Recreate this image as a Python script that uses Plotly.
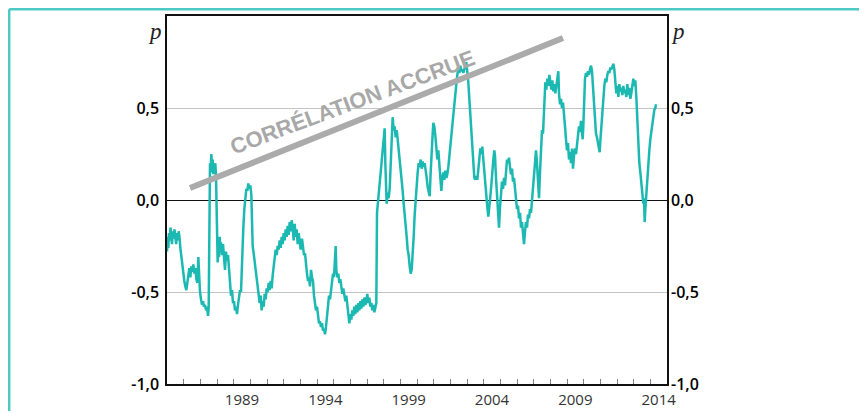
import plotly.graph_objects as go

# ---- data ----
years = [
 1985.00,1985.04,1985.08,1985.12,1985.17,1985.21,1985.25,1985.30,1985.35,1985.40,1985.45,1985.50,1985.55,1985.60,1985.65,1985.70,1985.75,1985.80,1985.86,1985.92,1985.98,
 1986.04,1986.10,1986.16,1986.22,1986.28,1986.34,1986.40,1986.46,1986.52,1986.58,1986.64,1986.70,1986.76,1986.82,1986.88,1986.92,1986.98,
 1987.04,1987.10,1987.16,1987.22,1987.28,1987.34,1987.40,1987.46,1987.50,1987.53,1987.55,1987.58,1987.62,1987.66,1987.70,1987.74,1987.78,1987.82,1987.86,1987.90,1987.94,1987.97,
 1988.00,1988.04,1988.08,1988.12,1988.16,1988.20,1988.24,1988.30,1988.36,1988.42,1988.48,1988.54,1988.60,1988.66,1988.72,1988.78,1988.84,1988.90,1988.96,
 1989.02,1989.08,1989.14,1989.20,1989.26,1989.32,1989.38,1989.44,1989.48,1989.52,1989.58,1989.64,1989.70,1989.76,1989.82,1989.88,1989.94,
 1990.00,1990.06,1990.10,1990.14,1990.20,1990.26,1990.32,1990.38,1990.44,1990.50,1990.56,1990.62,1990.68,1990.74,1990.80,1990.86,1990.92,1990.98,
 1991.04,1991.10,1991.16,1991.22,1991.28,1991.34,1991.40,1991.46,1991.52,1991.58,1991.64,1991.70,1991.76,1991.82,1991.88,1991.94,
 1992.00,1992.06,1992.12,1992.18,1992.24,1992.30,1992.36,1992.42,1992.48,1992.54,1992.60,1992.66,1992.72,1992.78,1992.84,1992.90,1992.96,
 1993.02,1993.10,1993.16,1993.22,1993.28,1993.34,1993.40,1993.46,1993.52,1993.58,1993.64,1993.70,1993.76,1993.82,1993.88,1993.94,
 1994.00,1994.06,1994.12,1994.18,1994.24,1994.30,1994.36,1994.42,1994.48,1994.54,1994.60,1994.66,1994.72,1994.78,1994.84,1994.90,1994.96,
 1995.02,1995.08,1995.12,1995.16,1995.22,1995.28,1995.34,1995.40,1995.46,1995.52,1995.58,1995.64,1995.70,1995.76,1995.82,1995.88,1995.94,
 1996.00,1996.06,1996.12,1996.18,1996.24,1996.30,1996.36,1996.42,1996.48,1996.54,1996.60,1996.66,1996.72,1996.78,1996.84,1996.90,1996.96,
 1997.02,1997.08,1997.14,1997.20,1997.26,1997.32,1997.38,1997.44,1997.50,1997.56,1997.60,1997.64,1997.70,1997.76,1997.82,1997.88,1997.94,
 1998.00,1998.06,1998.10,1998.14,1998.18,1998.24,1998.30,1998.36,1998.42,1998.48,1998.54,1998.60,1998.66,1998.72,1998.78,1998.84,1998.90,1998.96,
 1999.02,1999.08,1999.14,1999.20,1999.26,1999.32,1999.38,1999.44,1999.50,1999.56,1999.62,1999.68,1999.74,1999.80,1999.86,1999.92,1999.98,
 2000.04,2000.10,2000.16,2000.22,2000.28,2000.34,2000.40,2000.46,2000.52,2000.58,2000.64,2000.70,2000.76,2000.82,2000.88,2000.94,2000.98,
 2001.04,2001.10,2001.16,2001.22,2001.28,2001.34,2001.40,2001.46,2001.52,2001.58,2001.64,2001.70,2001.76,2001.82,2001.88,2001.94,
 2002.00,2002.06,2002.12,2002.18,2002.24,2002.30,2002.36,2002.42,2002.48,2002.54,2002.60,2002.66,2002.72,2002.78,2002.84,2002.90,2002.96,
 2003.02,2003.08,2003.14,2003.20,2003.26,2003.32,2003.38,2003.44,2003.50,2003.56,2003.62,2003.68,2003.74,2003.80,2003.86,2003.92,2003.98,
 2004.04,2004.10,2004.16,2004.22,2004.28,2004.34,2004.40,2004.46,2004.52,2004.58,2004.64,2004.68,2004.74,2004.80,2004.86,2004.92,2004.98,
 2005.04,2005.10,2005.16,2005.22,2005.28,2005.34,2005.40,2005.46,2005.52,2005.58,2005.64,2005.70,2005.76,2005.82,2005.88,2005.94,
 2006.00,2006.06,2006.12,2006.18,2006.24,2006.30,2006.36,2006.42,2006.48,2006.54,2006.60,2006.66,2006.72,2006.78,2006.84,2006.90,2006.96,
 2007.02,2007.08,2007.14,2007.20,2007.26,2007.32,2007.38,2007.44,2007.50,2007.56,2007.60,2007.66,2007.70,2007.76,2007.82,2007.88,2007.94,
 2008.00,2008.06,2008.12,2008.18,2008.24,2008.30,2008.36,2008.42,2008.48,2008.52,2008.58,2008.64,2008.70,2008.76,2008.82,2008.88,2008.94,
 2009.00,2009.06,2009.12,2009.18,2009.24,2009.30,2009.36,2009.42,2009.48,2009.54,2009.60,2009.66,2009.72,2009.78,2009.84,2009.90,2009.94,2009.98,
 2010.04,2010.08,2010.14,2010.20,2010.26,2010.32,2010.38,2010.44,2010.50,2010.56,2010.62,2010.68,2010.74,2010.80,2010.86,2010.92,2010.96,
 2011.00,2011.06,2011.12,2011.18,2011.24,2011.30,2011.36,2011.42,2011.48,2011.54,2011.60,2011.66,2011.72,2011.78,2011.84,2011.90,2011.96,
 2012.02,2012.08,2012.14,2012.20,2012.26,2012.32,2012.38,2012.44,2012.50,2012.56,2012.62,2012.68,2012.74,2012.80,2012.86,2012.92,2012.98,
 2013.04,2013.10,2013.16,2013.22,2013.28,2013.34,2013.40,2013.46,2013.52,2013.58,2013.62,2013.66,2013.70,2013.76,2013.82,2013.88,2013.94,
 2014.00,2014.06,2014.12,2014.18,2014.24,2014.30,2014.34,
]
rho = [
 -0.28,-0.20,-0.26,-0.18,-0.22,-0.15,-0.20,-0.24,-0.17,-0.21,-0.16,-0.19,-0.24,-0.18,-0.22,-0.17,-0.20,-0.26,-0.31,-0.35,-0.41,
 -0.44,-0.47,-0.49,-0.45,-0.40,-0.37,-0.42,-0.36,-0.39,-0.35,-0.40,-0.37,-0.43,-0.45,-0.31,-0.40,-0.50,
 -0.54,-0.57,-0.55,-0.58,-0.57,-0.60,-0.58,-0.63,-0.59,0.02,0.16,0.20,0.15,0.25,0.19,0.22,0.14,0.19,0.16,0.20,0.13,-0.05,
 -0.30,-0.34,-0.26,-0.31,-0.20,-0.27,-0.23,-0.30,-0.24,-0.33,-0.38,-0.28,-0.33,-0.30,-0.38,-0.46,-0.52,-0.49,-0.56,
 -0.55,-0.60,-0.58,-0.62,-0.57,-0.53,-0.49,-0.50,-0.40,-0.20,-0.15,-0.05,0.00,0.06,0.05,0.09,0.06,
 0.08,0.03,-0.10,-0.25,-0.29,-0.34,-0.37,-0.42,-0.48,-0.53,-0.56,-0.52,-0.60,-0.55,-0.58,-0.51,-0.54,-0.48,
 -0.50,-0.45,-0.49,-0.44,-0.48,-0.41,-0.35,-0.30,-0.27,-0.30,-0.25,-0.27,-0.22,-0.26,-0.20,-0.24,
 -0.18,-0.22,-0.16,-0.20,-0.14,-0.19,-0.12,-0.17,-0.11,-0.15,-0.22,-0.13,-0.20,-0.16,-0.24,-0.18,-0.22,
 -0.27,-0.21,-0.25,-0.30,-0.29,-0.36,-0.40,-0.44,-0.42,-0.47,-0.38,-0.42,-0.44,-0.52,-0.55,-0.60,
 -0.58,-0.64,-0.67,-0.66,-0.69,-0.67,-0.71,-0.70,-0.73,-0.69,-0.62,-0.56,-0.52,-0.54,-0.49,-0.43,-0.40,
 -0.42,-0.33,-0.25,-0.38,-0.42,-0.40,-0.45,-0.43,-0.47,-0.51,-0.48,-0.53,-0.55,-0.52,-0.56,-0.60,-0.67,
 -0.62,-0.65,-0.60,-0.63,-0.58,-0.62,-0.57,-0.61,-0.56,-0.60,-0.55,-0.59,-0.54,-0.58,-0.53,-0.57,-0.55,
 -0.51,-0.56,-0.53,-0.58,-0.56,-0.60,-0.57,-0.61,-0.58,-0.56,-0.07,-0.03,0.02,0.10,0.18,0.24,0.30,
 0.34,0.39,0.20,0.05,-0.02,0.04,0.01,0.06,0.20,0.35,0.45,0.38,0.40,0.34,0.38,0.33,0.28,0.22,
 0.15,0.10,0.05,-0.02,-0.10,-0.16,-0.20,-0.27,-0.30,-0.36,-0.40,-0.38,-0.31,-0.20,-0.08,0.02,0.10,
 0.15,0.20,0.18,0.22,0.17,0.21,0.18,0.20,0.14,0.12,0.07,0.03,0.02,0.15,0.30,0.36,0.42,
 0.40,0.35,0.30,0.22,0.27,0.18,0.12,0.05,0.12,0.15,0.11,0.16,0.12,0.14,0.18,0.24,
 0.30,0.35,0.43,0.48,0.55,0.58,0.63,0.68,0.72,0.69,0.73,0.70,0.71,0.69,0.72,0.73,0.75,
 0.70,0.64,0.55,0.45,0.35,0.25,0.18,0.12,0.11,0.13,0.11,0.16,0.22,0.28,0.25,0.29,0.22,
 0.14,0.06,0.00,-0.04,-0.09,-0.05,0.02,0.08,0.17,0.22,0.27,0.24,0.12,0.02,-0.05,-0.15,-0.04,
 0.04,0.10,0.06,0.12,0.08,0.15,0.22,0.20,0.23,0.18,0.14,0.17,0.10,0.12,0.06,0.02,
 -0.05,-0.03,-0.10,-0.07,-0.15,-0.12,-0.20,-0.24,-0.17,-0.12,-0.15,-0.08,-0.10,-0.05,-0.07,0.00,0.10,
 0.18,0.22,0.27,0.20,0.12,0.01,0.15,0.30,0.38,0.36,0.43,0.55,0.64,0.60,0.66,0.62,0.68,
 0.64,0.60,0.65,0.59,0.63,0.58,0.62,0.66,0.70,0.58,0.52,0.55,0.50,0.53,0.48,0.40,0.33,
 0.27,0.31,0.22,0.26,0.20,0.28,0.17,0.24,0.28,0.25,0.32,0.35,0.40,0.37,0.43,0.38,0.33,0.40,
 0.55,0.66,0.69,0.67,0.70,0.68,0.71,0.73,0.70,0.62,0.52,0.42,0.36,0.34,0.31,0.28,0.26,
 0.32,0.40,0.50,0.56,0.62,0.66,0.64,0.68,0.70,0.69,0.72,0.71,0.73,0.74,0.71,0.66,0.58,
 0.62,0.56,0.63,0.59,0.61,0.57,0.62,0.58,0.60,0.56,0.63,0.57,0.61,0.55,0.58,0.64,0.66,
 0.62,0.65,0.56,0.40,0.27,0.20,0.15,0.10,0.05,-0.02,0.01,-0.12,-0.05,0.04,0.12,0.20,0.27,
 0.33,0.38,0.43,0.45,0.49,0.50,0.52,
]
tick_years = [1989, 1994, 1999, 2004, 2009, 2014]
minor_years = list(range(1986, 2015))
y_ticks = [-1.0, -0.5, 0.0, 0.5]
y_ticktext = ["-1,0", "-0,5", "0,0", "0,5"]
trend_x = [1986.38, 2008.76]
trend_y = [0.065, 0.88]
trend_label = "CORRÉLATION ACCRUE"

TEAL = "#1bb9b1"
FRAME = "#4ccbc4"

# page body adds an 8px offset; figure sized/margined to compensate
W, H = 851, 403
ML, MT = 159, 8
PW, PH = 500, 368
MR, MB = W - ML - PW, H - MT - PH


def px(fx):
    return (fx - ML) / PW


def py(fy):
    return (MT + PH - fy) / PH


fig = go.Figure()
fig.add_trace(go.Scatter(x=years, y=rho, mode="lines",
                         line=dict(color=TEAL, width=2.5), hoverinfo="skip", showlegend=False))
# invisible companion on the secondary axes so they render
fig.add_trace(go.Scatter(x=years, y=rho, mode="lines", xaxis="x2", yaxis="y2",
                         line=dict(color="rgba(0,0,0,0)", width=0), hoverinfo="skip", showlegend=False))
# trend line
fig.add_trace(go.Scatter(x=trend_x, y=trend_y, mode="lines",
                         line=dict(color="#ababab", width=6), hoverinfo="skip", showlegend=False))

yfont = dict(family="Open Sans, Noto Sans, sans-serif", size=16, color="#000", weight=600)
xfont = dict(family="Open Sans, Noto Sans, sans-serif", size=15, color="#333")

fig.update_layout(
    width=W, height=H,
    margin=dict(l=ML, r=MR, t=MT, b=MB, autoexpand=False),
    paper_bgcolor="white", plot_bgcolor="white",
    xaxis=dict(
        range=[1985, 2015], automargin=False,
        tickvals=minor_years, ticktext=["" for _ in minor_years],
        ticks="inside", ticklen=5, tickcolor="#808080", tickwidth=1,
        showgrid=False, zeroline=False,
        showline=True, linecolor="#111", linewidth=1.5, mirror=True,
    ),
    xaxis2=dict(
        range=[1985, 2015], overlaying="x", side="bottom", automargin=False,
        tickvals=[y + 0.5 for y in tick_years],
        ticktext=[str(y) for y in tick_years],
        ticks="", showgrid=False, zeroline=False, showline=False,
        tickfont=xfont, ticklabelstandoff=5,
    ),
    yaxis=dict(
        range=[-1, 1], tickvals=y_ticks, ticktext=y_ticktext, automargin=False,
        ticks="", showgrid=True, gridcolor="#c4c4c4", gridwidth=1,
        zeroline=True, zerolinecolor="#111", zerolinewidth=1.3,
        showline=True, linecolor="#111", linewidth=1.5, mirror=True,
        tickfont=yfont, ticklabelstandoff=3,
    ),
    yaxis2=dict(
        range=[-1, 1], tickvals=y_ticks, ticktext=y_ticktext, automargin=False,
        overlaying="y", side="right", ticks="", showgrid=False, zeroline=False,
        showline=False, tickfont=yfont, ticklabelstandoff=3,
    ),
    shapes=[
        # outer teal frame (top and left)
        dict(type="line", xref="paper", yref="paper", x0=px(1.2), x1=px(W + 5),
             y0=py(1.2), y1=py(1.2), line=dict(color=FRAME, width=2.5)),
        dict(type="line", xref="paper", yref="paper", x0=px(1.2), x1=px(1.2),
             y0=py(1.2), y1=py(H + 5), line=dict(color=FRAME, width=2.5)),
    ],
    annotations=[
        dict(text="<i>p</i>", xref="paper", yref="paper", x=px(156), y=py(23),
             xanchor="right", yanchor="middle", showarrow=False,
             font=dict(family="Liberation Serif, serif", size=23, color="#222")),
        dict(text="<i>p</i>", xref="paper", yref="paper", x=px(661), y=py(23),
             xanchor="left", yanchor="middle", showarrow=False,
             font=dict(family="Liberation Serif, serif", size=23, color="#222")),
        dict(text="<b>" + trend_label + "</b>", x=1996.1, y=0.53, xref="x", yref="y",
             showarrow=False, textangle=-20.5,
             font=dict(family="Liberation Sans, Arial, sans-serif", size=22, color="#a8a8a8")),
    ],
)

fig.write_html("out.html")
